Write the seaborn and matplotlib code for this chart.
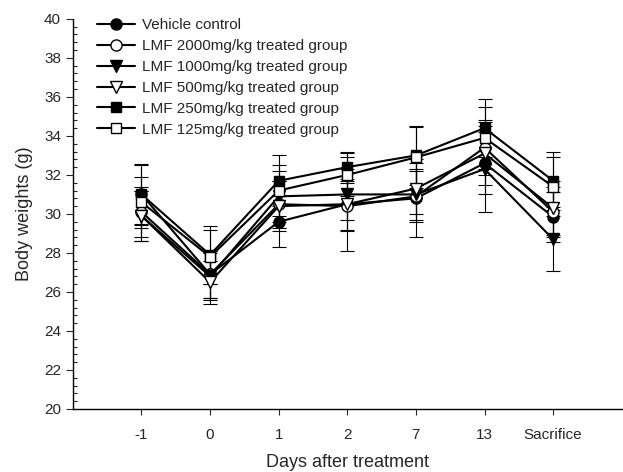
import matplotlib
matplotlib.use("Agg")
import matplotlib.pyplot as plt
from matplotlib.ticker import MultipleLocator
import seaborn as sns
import pandas as pd
import numpy as np

days = ["-1", "0", "1", "2", "7", "13", "Sacrifice"]
groups = ["Vehicle control",
          "LMF 2000mg/kg treated group",
          "LMF 1000mg/kg treated group",
          "LMF 500mg/kg treated group",
          "LMF 250mg/kg treated group",
          "LMF 125mg/kg treated group"]

vehicle = [31.0, 26.9, 29.6, 30.5, 30.8, 32.6, 29.85]
lmf2000 = [30.1, 26.9, 30.5, 30.4, 30.9, 33.4, 30.1]
lmf1000 = [29.9, 26.8, 30.9, 31.0, 31.0, 32.3, 28.7]
lmf500 = [29.9, 26.5, 30.4, 30.5, 31.3, 33.1, 30.3]
lmf250 = [31.0, 27.9, 31.7, 32.4, 33.0, 34.4, 31.7]
lmf125 = [30.6, 27.8, 31.2, 32.0, 32.9, 33.9, 31.4]

sd_vehicle = [1.5, 1.2, 1.3, 1.3, 2.0, 1.6, 1.3]
sd_lmf2000 = [1.3, 1.2, 1.2, 1.3, 1.3, 1.4, 1.3]
sd_lmf1000 = [1.3, 1.2, 1.3, 1.3, 1.3, 2.2, 1.65]
sd_lmf500 = [1.3, 1.1, 1.3, 2.4, 1.3, 1.6, 1.4]
sd_lmf250 = [1.55, 1.5, 1.3, 0.8, 1.5, 1.5, 1.5]
sd_lmf125 = [1.3, 1.4, 1.3, 1.1, 1.55, 1.6, 1.5]

means = [vehicle, lmf2000, lmf1000, lmf500, lmf250, lmf125]
sds = [sd_vehicle, sd_lmf2000, sd_lmf1000, sd_lmf500, sd_lmf250, sd_lmf125]

rows = []
for g, m, s in zip(groups, means, sds):
    for i, d in enumerate(days):
        rows.append({"group": g, "day": d, "pos": i, "weight": m[i], "sd": s[i]})
df = pd.DataFrame(rows)

sns.set_style("ticks")
plt.rcParams["font.family"] = ["Liberation Sans", "DejaVu Sans"]

fig = plt.figure(figsize=(6.23, 4.72), dpi=100)
ax = fig.add_axes([0.117, 0.1335, 0.881, 0.8265])

markers = ["o", "o", "v", "v", "s", "s"]
faces = ["black", "white", "black", "white", "black", "white"]
msizes = [8, 8, 8, 8, 7, 7]

for g in groups:
    sub = df[df["group"] == g]
    ax.errorbar(sub["pos"], sub["weight"], yerr=sub["sd"], fmt="none",
                ecolor="black", elinewidth=0.8, capsize=5, capthick=0.8, zorder=1)
for g, mk, fc, ms in zip(groups, markers, faces, msizes):
    sub = df[df["group"] == g]
    sns.lineplot(data=sub, x="pos", y="weight", ax=ax, color="black",
                 marker=mk, markersize=ms, markerfacecolor=fc,
                 markeredgecolor="black", markeredgewidth=1.0,
                 linewidth=1.5, label=g, zorder=3)

ax.set_xlim(-1, 7)
ax.set_ylim(20, 40)
ax.set_xticks(range(len(days)))
ax.set_xticklabels(days)
ax.yaxis.set_major_locator(MultipleLocator(2))
ax.yaxis.set_minor_locator(MultipleLocator(0.4))
ax.tick_params(axis="y", which="major", direction="out", length=5, width=0.8, labelsize=11)
ax.tick_params(axis="y", which="minor", direction="in", length=3, width=0.8)
ax.tick_params(axis="x", which="major", direction="out", length=4, width=0.8,
               labelsize=11, pad=10)
for sp in ["top", "right"]:
    ax.spines[sp].set_visible(False)
for sp in ["left", "bottom"]:
    ax.spines[sp].set_linewidth(1.0)
    ax.spines[sp].set_color("black")

ax.set_xlabel("Days after treatment", fontsize=13, labelpad=8)
ax.set_ylabel("Body weights (g)", fontsize=13, labelpad=8)

leg = ax.legend(loc="upper left", bbox_to_anchor=(0.027, 1.025), frameon=False,
                fontsize=11, handlelength=2.5, handletextpad=0.45,
                labelspacing=0.45, borderaxespad=0.2)

fig.savefig("out.png", dpi=100)
